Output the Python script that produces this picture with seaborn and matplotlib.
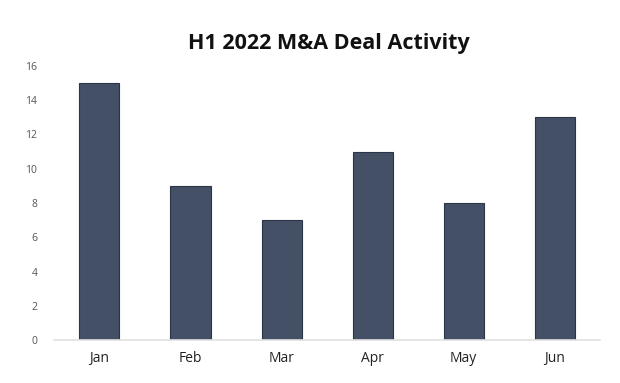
import matplotlib
matplotlib.use("Agg")
import matplotlib.pyplot as plt
import seaborn as sns
import pandas as pd

# chart data
months = ["Jan", "Feb", "Mar", "Apr", "May", "Jun"]
deals = [15, 9, 7, 11, 8, 13]

df = pd.DataFrame({"Month": months, "Deals": deals})

sns.set_theme(style="white")
plt.rcParams["font.family"] = ["Open Sans", "DejaVu Sans"]

fig = plt.figure(figsize=(6.2, 3.83), dpi=100)
ax = fig.add_axes([0.087, 0.112, 0.881, 0.716])

sns.barplot(data=df, x="Month", y="Deals", color="#435066", width=0.44,
            edgecolor="#2b3547", linewidth=0.8, saturation=1, ax=ax)

ax.set_ylim(0, 16)
ax.set_yticks(range(0, 17, 2))
ax.set_xlabel("")
ax.set_ylabel("")
ax.tick_params(axis="y", labelsize=7.5, colors="#555555", length=0, pad=12)
ax.tick_params(axis="x", labelsize=10, colors="#222222", length=0, pad=8)
for s in ["top", "right", "left"]:
    ax.spines[s].set_visible(False)
ax.spines["bottom"].set_color("#e0e0e0")
ax.spines["bottom"].set_linewidth(1.2)

fig.suptitle("H1 2022 M&A Deal Activity", fontsize=15.5, fontweight="bold",
             color="#111111", y=0.915, x=0.53)

fig.savefig("out.png", dpi=100)
